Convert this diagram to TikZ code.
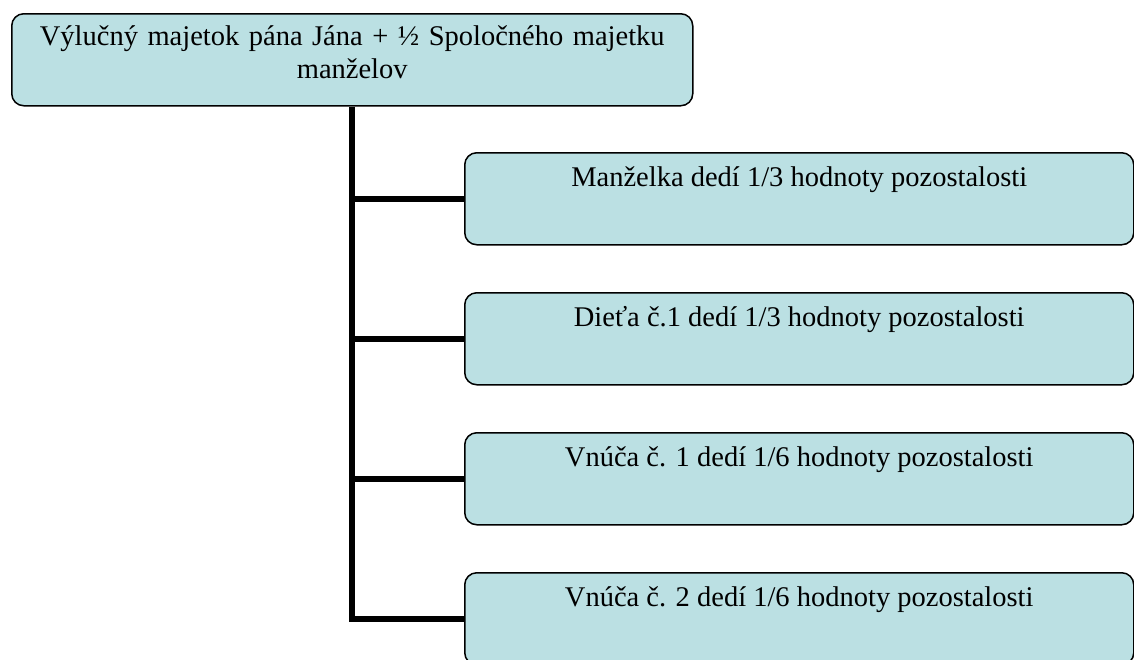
\documentclass[tikz,border=0pt]{standalone}
\usepackage{fontspec}
\setmainfont{Liberation Serif}
\definecolor{boxfill}{RGB}{187,224,227}
\tikzset{
  diagbox/.style={draw=black, line width=1.5pt, fill=boxfill, rounded corners=12pt,
    inner xsep=0pt, inner ysep=0pt, anchor=north west,
    font=\fontsize{28.5}{33}\selectfont},
  childbox/.style={diagbox, minimum width=669pt, minimum height=92pt,
    text height=34pt, text depth=58pt},
  bus/.style={line width=6pt, line join=miter}
}
\begin{document}
\begin{tikzpicture}[x=1pt,y=-1pt]
\useasboundingbox (0,0) rectangle (1134,659);
\clip (0,0) rectangle (1134,659);
\node[diagbox, minimum width=681pt, minimum height=92pt, text width=681pt, align=center,
  text height=32pt, text depth=60pt] (top) at (11,13)
  {Výlučný majetok pána Jána + ½ Spoločného majetku\\manželov};
\node[childbox] (c1) at (464,152) {Manželka dedí 1/3 hodnoty pozostalosti};
\node[childbox] (c2) at (464,292) {Dieťa č.1 dedí 1/3 hodnoty pozostalosti};
\node[childbox] (c3) at (464,432) {Vnúča č. 1 dedí 1/6 hodnoty pozostalosti};
\node[childbox] (c4) at (464,572) {Vnúča č. 2 dedí 1/6 hodnoty pozostalosti};
\draw[bus] (top.south) |- (c4.west);
\draw[bus] (top.south |- c1.west) -- (c1.west);
\draw[bus] (top.south |- c2.west) -- (c2.west);
\draw[bus] (top.south |- c3.west) -- (c3.west);
\end{tikzpicture}
\end{document}
